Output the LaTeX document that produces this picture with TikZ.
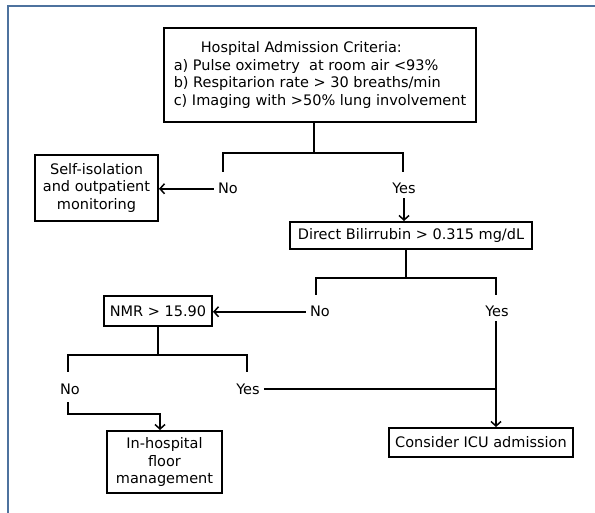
\documentclass[tikz,border=0pt]{standalone}
\usepackage{fontspec}
\setmainfont{DejaVu Sans}
\usetikzlibrary{arrows.meta}
\begin{document}
\begin{tikzpicture}[x=1pt,y=1pt,
    box/.style={draw,line width=2pt,inner sep=0pt,align=center,
      font=\fontsize{14.5}{17.5}\selectfont},
    lbl/.style={inner sep=4pt,text height=10.5pt,text depth=0pt,
      font=\fontsize{14.5}{17.5}\selectfont},
    line/.style={line width=1.9pt},
    arr/.style={line width=1.9pt,-{Straight Barb[length=4.5pt,width=10pt,line width=1.5pt]}}]
  \useasboundingbox (0,0) rectangle (595,-513);
  \draw[line width=2.4pt,color={rgb,255:red,77;green,114;blue,158}] (8,-513) -- (8,-6) -- (595,-6);

  \node[box,minimum width=312pt,minimum height=94pt,align=left] (crit) at (320,-75)
    {\hspace*{27pt}Hospital Admission Criteria:\\
     a) Pulse oximetry\ \ at room air <93\%\\
     b) Respitarion rate > 30 breaths/min\\
     c) Imaging with >50\% lung involvement};
  \node[box,minimum width=123pt,minimum height=66pt] (self) at (96.5,-188)
    {Self-isolation\\and outpatient\\monitoring};
  \node[box,minimum width=242pt,minimum height=27pt] (dbil) at (411,-235.5)
    {Direct Bilirrubin > 0.315 mg/dL};
  \node[box,minimum width=108pt,minimum height=30pt] (nmr) at (158,-311)
    {NMR > 15.90};
  \node[box,minimum width=115pt,minimum height=62pt] (floor) at (164.5,-462)
    {In-hospital\\floor\\management};
  \node[box,minimum width=184pt,minimum height=29pt] (icu) at (481,-442.5)
    {Consider ICU admission};

  \node[lbl,anchor=base] (no1) at (228,-194) {No};
  \node[lbl,anchor=base] (yes1) at (404,-194) {Yes};
  \node[lbl,anchor=base] (no2) at (320,-317) {No};
  \node[lbl,anchor=base] (yes2) at (497,-317) {Yes};
  \node[lbl,anchor=base] (no3) at (70,-394) {No};
  \node[lbl,anchor=base] (yes3) at (248,-394) {Yes};

  \coordinate (j1) at (314,-153);
  \coordinate (j1l) at (223,-153);
  \coordinate (j1r) at (403,-153);
  \coordinate (j2) at (406,-278);
  \coordinate (j2l) at (316,-278);
  \coordinate (j2r) at (496,-278);
  \coordinate (j3) at (158,-355);
  \coordinate (j3l) at (68,-355);
  \coordinate (j3r) at (247,-355);

  \draw[line] (crit.south -| j1) -- (j1);
  \draw[line] ([yshift=-19pt]j1l) -- (j1l) -- (j1r) -- ([yshift=-19pt]j1r);
  \draw[arr] (no1.west) -- (no1.west -| self.east);
  \draw[arr] (yes1.south) -- (yes1.south |- dbil.north);

  \draw[line] (dbil.south -| j2) -- (j2);
  \draw[line] ([yshift=-17pt]j2l) -- (j2l) -- (j2r) -- ([yshift=-17pt]j2r);
  \draw[arr] (no2.west) -- (no2.west -| nmr.east);
  \draw[arr] (yes2.south -| j2r) -- (j2r |- icu.north);

  \draw[line] (nmr.south) -- (j3);
  \draw[line] ([yshift=-17pt]j3l) -- (j3l) -- (j3r) -- ([yshift=-17pt]j3r);
  \draw[arr] ([yshift=-4pt]no3.south -| j3l) -- ++(0,-12) -| ([xshift=-4.5pt]floor.north);
  \draw[line] (yes3.east) -- (yes3.east -| j2r);
\end{tikzpicture}
\end{document}
